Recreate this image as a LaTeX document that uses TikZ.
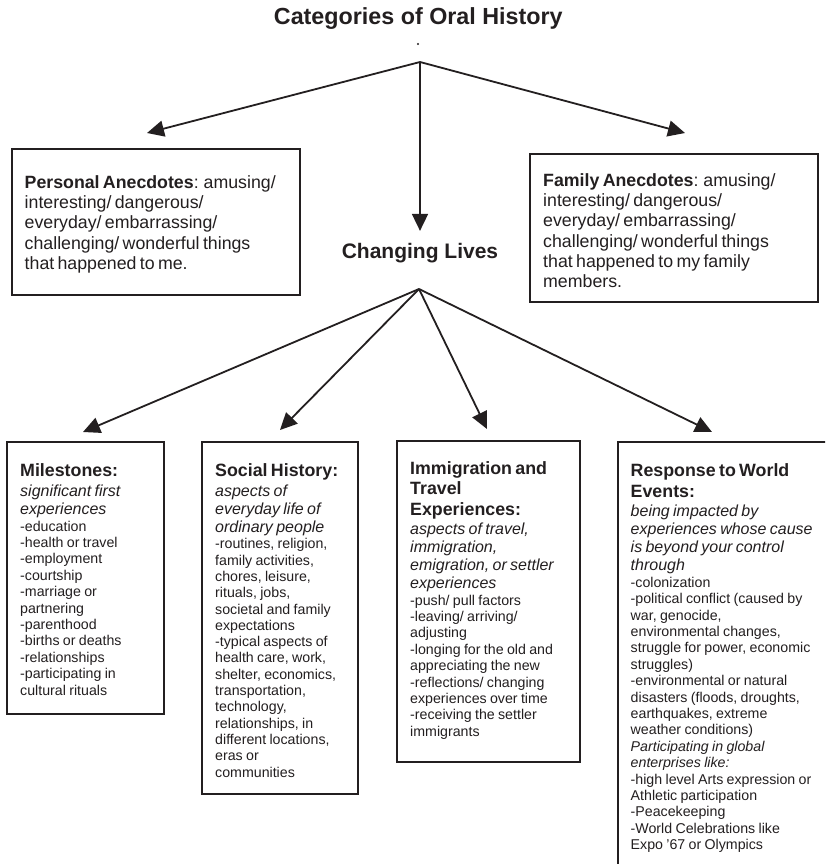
\documentclass[tikz,border=0pt]{standalone}
\usepackage{fontspec}
\setmainfont{Liberation Sans}
\usetikzlibrary{arrows.meta}
\definecolor{ink}{RGB}{35,31,32}
\setlength{\parindent}{0pt}
\setlength{\parskip}{0pt}
\newcommand\BoldLn[2][20.3pt]{{\fontsize{17.8pt}{#1}\bfseries #2\par}}
\newcommand\ItLn[2][17.9pt]{{\fontsize{16pt}{#1}\itshape #2\par}}
\newcommand\RegLn[2][16.4pt]{{\fontsize{14.2pt}{#1}\selectfont #2\par}}
\newcommand\SmItLn[2][16.4pt]{{\fontsize{14.2pt}{#1}\itshape #2\par}}
\newcommand\UpLn[1]{{\fontsize{17.75pt}{20.3pt}\selectfont #1\par}}
\tikzset{
  box/.style={draw=ink, line width=2.1pt, rectangle, inner sep=0pt, anchor=north west},
  txt/.style={text=ink, text width=300pt, align=left, inner sep=0pt, anchor=north west},
  arr/.style={draw=ink, line width=1.8pt, -{Triangle[length=17pt,width=16pt]}},
  heading/.style={text=ink, inner sep=0pt, anchor=base, font=\bfseries}
}
\begin{document}
\begin{tikzpicture}[x=1pt,y=-1pt]
\useasboundingbox (0,0) rectangle (825,864);
\clip (0,0) rectangle (825,864);
\fill[white] (0,0) rectangle (825,864);

% title
\node[heading, font=\bfseries\fontsize{23.3pt}{26pt}\selectfont] (title) at (418.3,25) {Categories of Oral History};
\fill[ink] (418,44) circle (1.1pt);

% hubs
\coordinate (hubA) at (420,62);
\coordinate (tipP) at (147,133);
\coordinate (tipF) at (685,133);
\coordinate (hubB) at (419,289);
\coordinate (tipM) at (83,432);
\coordinate (tipS) at (280,430);
\coordinate (tipI) at (487,429);
\coordinate (tipR) at (712,432);

% changing lives
\node[heading, font=\bfseries\fontsize{21pt}{24pt}\selectfont] (chg) at (420,258.3) {Changing Lives};

% upper boxes
\node[box, minimum width=288pt, minimum height=146pt] (pers) at (11,148) {};
\node[txt] (perstxt) at (24.5,175.3) {%
\UpLn{\textbf{Personal Anecdotes}: amusing/}
\UpLn{interesting/ dangerous/}
\UpLn{everyday/ embarrassing/}
\UpLn{challenging/ wonderful things}
\UpLn{that happened to me.}};

\node[box, minimum width=288pt, minimum height=148pt] (fam) at (529,153) {};
\node[txt] (famtxt) at (543,173.3) {%
\UpLn{\textbf{Family Anecdotes}: amusing/}
\UpLn{interesting/ dangerous/}
\UpLn{everyday/ embarrassing/}
\UpLn{challenging/ wonderful things}
\UpLn{that happened to my family}
\UpLn{members.}};

% lower boxes
\node[box, minimum width=157pt, minimum height=272pt] (mile) at (6,441) {};
\node[txt] (miletxt) at (20,463.8) {%
\BoldLn{Milestones:}
\ItLn[19.5pt]{significant first}
\ItLn{experiences}
\RegLn[16.8pt]{-education}
\RegLn{-health or travel}
\RegLn{-employment}
\RegLn{-courtship}
\RegLn{-marriage or}
\RegLn{partnering}
\RegLn{-parenthood}
\RegLn{-births or deaths}
\RegLn{-relationships}
\RegLn{-participating in}
\RegLn{cultural rituals}};

\node[box, minimum width=156pt, minimum height=352pt] (soc) at (201,441) {};
\node[txt] (soctxt) at (215,463.8) {%
\BoldLn{Social History:}
\ItLn[19.5pt]{aspects of}
\ItLn{everyday life of}
\ItLn{ordinary people}
\RegLn[16.6pt]{-routines, religion,}
\RegLn[16.3pt]{family activities,}
\RegLn[16.3pt]{chores, leisure,}
\RegLn[16.3pt]{rituals, jobs,}
\RegLn[16.3pt]{societal and family}
\RegLn[16.3pt]{expectations}
\RegLn[16.3pt]{-typical aspects of}
\RegLn[16.3pt]{health care, work,}
\RegLn[16.3pt]{shelter, economics,}
\RegLn[16.3pt]{transportation,}
\RegLn[16.3pt]{technology,}
\RegLn[16.3pt]{relationships, in}
\RegLn[16.3pt]{different locations,}
\RegLn[16.3pt]{eras or}
\RegLn[16.3pt]{communities}};

\node[box, minimum width=183pt, minimum height=321pt] (imm) at (396,440) {};
\node[txt] (immtxt) at (410,461.3) {%
\BoldLn{Immigration and}
\BoldLn{Travel}
\BoldLn{Experiences:}
\ItLn[19.5pt]{aspects of travel,}
\ItLn{immigration,}
\ItLn{emigration, or settler}
\ItLn{experiences}
\RegLn[16.8pt]{-push/ pull factors}
\RegLn{-leaving/ arriving/}
\RegLn{adjusting}
\RegLn{-longing for the old and}
\RegLn{appreciating the new}
\RegLn{-reflections/ changing}
\RegLn{experiences over time}
\RegLn{-receiving the settler}
\RegLn{immigrants}};

\node[box, minimum width=260pt, minimum height=460pt] (resp) at (617,441) {};
\node[txt] (resptxt) at (630.5,463.8) {%
\BoldLn{Response to World}
\BoldLn{Events:}
\ItLn[19.5pt]{being impacted by}
\ItLn{experiences whose cause}
\ItLn{is beyond your control}
\ItLn{through}
\RegLn[16.8pt]{-colonization}
\RegLn{-political conflict (caused by}
\RegLn{war, genocide,}
\RegLn{environmental changes,}
\RegLn{struggle for power, economic}
\RegLn{struggles)}
\RegLn{-environmental or natural}
\RegLn{disasters (floods, droughts,}
\RegLn{earthquakes, extreme}
\RegLn{weather conditions)}
\SmItLn{Participating in global}
\SmItLn{enterprises like:}
\RegLn{-high level Arts expression or}
\RegLn{Athletic participation}
\RegLn{-Peacekeeping}
\RegLn{-World Celebrations like}
\RegLn{Expo ’67 or Olympics}};

% connectors
\draw[arr] (hubA) -- (tipP);
\draw[arr] (hubA) -- (tipF);
\draw[arr, shorten >=12pt] (hubA) -- (chg.north);
\draw[arr] (hubB) -- (tipM);
\draw[arr] (hubB) -- (tipS);
\draw[arr] (hubB) -- (tipI);
\draw[arr] (hubB) -- (tipR);
\end{tikzpicture}
\end{document}
